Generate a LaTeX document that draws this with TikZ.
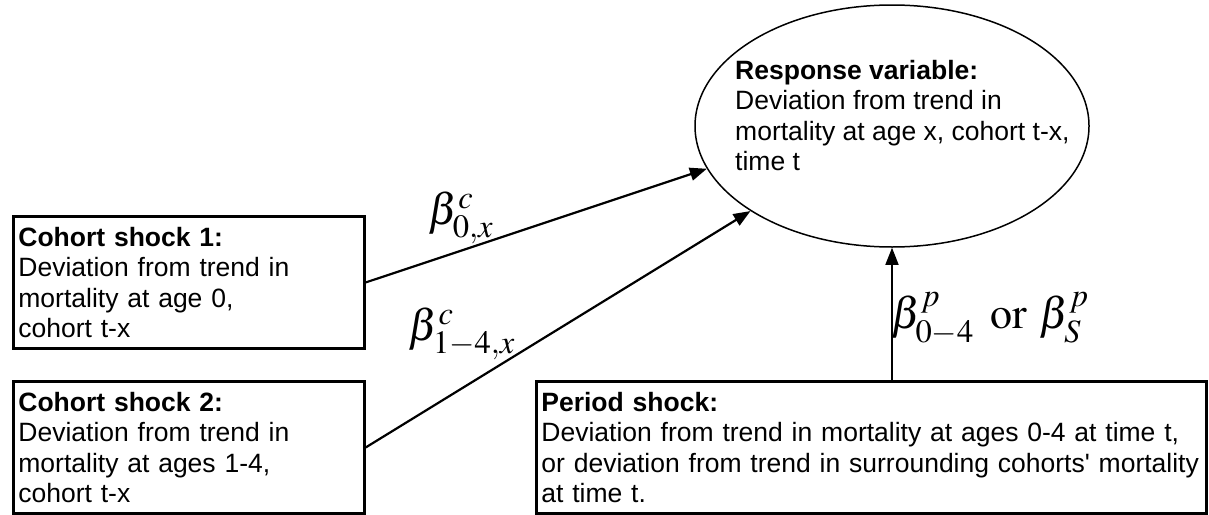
\documentclass[tikz,border=0pt]{standalone}
\usepackage{mathptmx}
\usepackage{fontspec}
\setmainfont{Liberation Sans}[Ligatures=TeXOff]
\usetikzlibrary{shapes.geometric,arrows.meta}
\begin{document}
\begin{tikzpicture}[x=1pt,y=-1pt,
  txt/.style={font=\fontsize{26.5}{30.5}\selectfont},
  box/.style={draw, line width=2.8pt, align=left, inner xsep=5pt, inner ysep=0pt,
              anchor=north west, minimum height=132pt, txt},
  arr/.style={line width=2.2pt, -{Triangle[length=17pt,width=13pt]}},
  mlabel/.style={font=\fontsize{44}{50}\selectfont, inner sep=0pt}]
\fill[white] (0,0) rectangle (1209,514);
\useasboundingbox (0,0) rectangle (1209,514);

\node[draw, ellipse, line width=1.5pt, minimum width=394pt, minimum height=242pt,
      inner sep=0pt] (resp) at (892,126) {};
\node[txt, align=left, anchor=north west, inner sep=0pt] (rtext) at (735,60)
  {\textbf{Response variable:}\\Deviation from trend in\\mortality at age x, cohort t-x,\\time t};

\node[box, text width=341pt] (c1) at (12,215)
  {\textbf{Cohort shock 1:}\\Deviation from trend in\\mortality at age 0,\\cohort t-x};
\node[box, text width=341pt] (c2) at (12,380)
  {\textbf{Cohort shock 2:}\\Deviation from trend in\\mortality at ages 1-4,\\cohort t-x};
\node[box, text width=660pt] (p) at (535,380)
  {\textbf{Period shock:}\\Deviation from trend in mortality at ages 0-4 at time t,\\or deviation from trend in surrounding cohorts' mortality\\at time t.};

\draw[arr] (c1.east) -- (resp.193);
\draw[arr] (c2.east) -- (resp.211);
\draw[arr, line width=1.6pt] (resp.south |- p.north) -- (resp.south);

\node[mlabel] (b1) at (461,218) {$\beta^{c}_{0,x}$};
\node[mlabel] (b2) at (462,334) {$\beta^{c}_{1-4,x}$};
\node[mlabel] (bp) at (990,319) {$\beta^{p}_{0-4}\ \,\mathrm{or}\ \beta^{p}_{S}$};
\end{tikzpicture}
\end{document}
